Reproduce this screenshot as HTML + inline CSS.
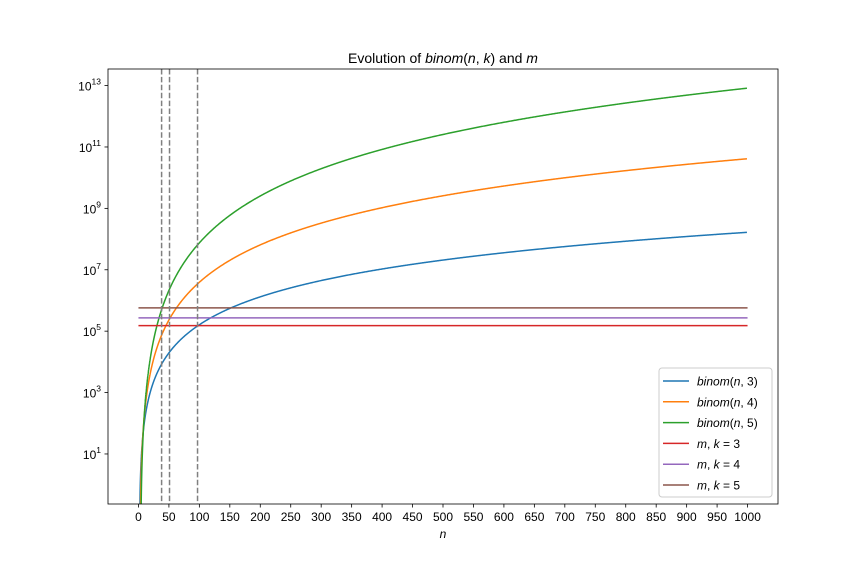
<!DOCTYPE html>
<html><head><meta charset="utf-8"><style>
body{margin:0;background:#fff;}
svg{font-family:"Liberation Sans","DejaVu Sans",sans-serif;}
</style></head><body>
<svg id="chart" width="864" height="576" xmlns="http://www.w3.org/2000/svg">
<rect width="864" height="576" fill="#fff"/>
<defs><clipPath id="clip"><rect x="108" y="69" width="670" height="435"/></clipPath></defs>
<g id="plot" clip-path="url(#clip)"></g>
<g id="axes"></g>
</svg>
<script>
const kValues = [3, 4, 5];
const mValues = [152096, 270725, 575757];
const crossN = [38, 51, 97];
const xTicks = [0,50,100,150,200,250,300,350,400,450,500,550,600,650,700,750,800,850,900,950,1000];
const yTickExps = [1,3,5,7,9,11,13];
const colors = ['#1f77b4','#ff7f0e','#2ca02c','#d62728','#9467bd','#8c564b'];
const nMax = 1000;

const NS='http://www.w3.org/2000/svg';
const L=108,R=778,T=69,B=504;
const xMin=-50,xMax=1050, yMinL=-0.63, yMaxL=13.54;
function X(v){return L+(v-xMin)/(xMax-xMin)*(R-L);}
function Y(v){return B-(Math.log10(v)-yMinL)/(yMaxL-yMinL)*(B-T);}
function mk(tag,attrs,parent){const e=document.createElementNS(NS,tag);for(const k in attrs)e.setAttribute(k,attrs[k]);parent.appendChild(e);return e;}
const plot=document.getElementById('plot'), axes=document.getElementById('axes');
function binom(n,k){let r=1;for(let i=0;i<k;i++)r*=(n-i)/(i+1);return r;}

// curves
kValues.forEach((k,i)=>{
  let d='';let started=false;
  for(let n=k-1;n<=nMax;n+=(n<20?0.02:1)){
    let v=binom(n,k); let y=v>0?Y(v):B+50; if(y>B+50)y=B+50;
    d+=(started?'L':'M')+X(n).toFixed(2)+' '+y.toFixed(2)+' ';started=true;
  }
  const p=mk('path',{d:d,fill:'none',stroke:colors[i],'stroke-width':1.5},plot);
  
  
});
mValues.forEach((m,i)=>{
  const l=mk('line',{x1:X(0),x2:X(nMax),y1:Y(m),y2:Y(m),stroke:colors[3+i],'stroke-width':1.5},plot);
  
  
});
crossN.forEach((n,i)=>{
  const l=mk('line',{x1:X(n),x2:X(n),y1:T,y2:B,stroke:'#808080','stroke-width':1.5,'stroke-dasharray':'5.5,2.4'},plot);
  
  
});
// frame
const fr=mk('rect',{x:L,y:T,width:R-L,height:B-T,fill:'none',stroke:'#000','stroke-width':0.8},axes);


xTicks.forEach(t=>{
  const x=X(t);
  mk('line',{x1:x,x2:x,y1:B,y2:B+3.5,stroke:'#000','stroke-width':0.8},axes);
  const tx=mk('text',{x:x,y:B+17,'text-anchor':'middle','font-size':12},axes);
  tx.textContent=t;
  
  
});
yTickExps.forEach(e=>{
  const y=Y(Math.pow(10,e));
  mk('line',{x1:L-3.5,x2:L,y1:y,y2:y,stroke:'#000','stroke-width':0.8},axes);
  const tx=mk('text',{x:L-7,y:y+5,'text-anchor':'end','font-size':12},axes);
  
  
  const a=mk('tspan',{},tx);a.textContent='10';
  const b=mk('tspan',{'font-size':8.5,dy:-6},tx);b.textContent=e;
});
// title & labels
const title=mk('text',{x:443,y:63,'text-anchor':'middle','font-size':14},axes);


title.innerHTML='Evolution of <tspan font-style="italic">binom</tspan>(<tspan font-style="italic">n</tspan>, <tspan font-style="italic">k</tspan>) and <tspan font-style="italic">m</tspan>';
const xl=mk('text',{x:443,y:538,'text-anchor':'middle','font-size':12,'font-style':'italic'},axes);
xl.textContent='n';


// legend
const lg=mk('g',{},axes);


mk('rect',{x:659,y:368,width:113,height:129,rx:3,fill:'#fff','fill-opacity':0.8,stroke:'#ccc','stroke-width':1},lg);
const labels=kValues.map(k=>'<tspan font-style="italic">binom</tspan>(<tspan font-style="italic">n</tspan>, '+k+')').concat(kValues.map(k=>'<tspan font-style="italic">m</tspan>, <tspan font-style="italic">k</tspan> = '+k));
labels.forEach((lab,i)=>{
  const y=381+i*20.8;
  const ent=mk('g',{},lg);
  
  
  mk('line',{x1:663,x2:689,y1:y,y2:y,stroke:colors[i],'stroke-width':1.5},ent);
  const t=mk('text',{x:697,y:y+4.5,'font-size':12},ent);
  t.innerHTML=lab;
});
</script>
</body></html>
